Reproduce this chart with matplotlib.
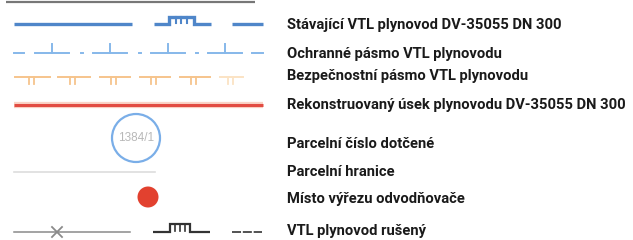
import matplotlib
matplotlib.use("Agg")
import matplotlib.pyplot as plt
from matplotlib.patches import Circle
from matplotlib import font_manager as fm

labels = [
    "Stávající VTL plynovod DV-35055 DN 300",
    "Ochranné pásmo VTL plynovodu",
    "Bezpečnostní pásmo VTL plynovodu",
    "Rekonstruovaný úsek plynovodu DV-35055 DN 300",
    "Parcelní číslo dotčené",
    "Parcelní hranice",
    "Místo výřezu odvodňovače",
    "VTL plynovod rušený",
]
parcel_number = "1384/1"

names = {f.name for f in fm.fontManager.ttflist}
family = "Roboto" if "Roboto" in names else "Liberation Sans"

W, H = 633, 240
fig = plt.figure(figsize=(W / 100, H / 100), dpi=100)
ax = fig.add_axes([0, 0, 1, 1])
ax.set_xlim(0, W)
ax.set_ylim(H, 0)
ax.axis("off")

row_y = [24, 53, 77, 105, 144, 172, 199, 232]
text_y = [25, 54, 76, 105, 144, 172, 199, 231]
tx = 287

blue = "#4f86c9"
lblue = "#86b8ea"
orange = "#f6c48c"
red = "#e24c42"
gray = "#8a8a8a"

# top gray rule
ax.plot([6, 255], [2, 2], color="#777777", lw=1.6, solid_capstyle="butt")

# row 1: existing pipeline
y = row_y[0]
ax.plot([14, 132], [y, y], color=blue, lw=2.4, solid_capstyle="butt")
ax.plot([154, 169, 169, 194, 194, 211], [y, y, y - 7, y - 7, y, y], color=blue, lw=2.4,
        solid_capstyle="butt", solid_joinstyle="miter")
for xx in [176, 181, 187]:
    ax.plot([xx, xx], [y - 7, y - 1], color=blue, lw=1.5)
ax.plot([232, 263], [y, y], color=blue, lw=2.4, solid_capstyle="butt")

# row 2: protection zone
y = row_y[1]
ax.plot([14, 24], [y, y], color=lblue, lw=1.4)
for x0 in [35, 93, 151, 208]:
    ax.plot([x0, x0 + 34], [y, y], color=lblue, lw=1.4)
    ax.plot([x0 + 17, x0 + 17], [y, y - 9], color=lblue, lw=1.4)
for xd in [81, 139, 196]:
    ax.plot([xd, xd + 2], [y, y], color=lblue, lw=1.4)
ax.plot([252, 263], [y, y], color=lblue, lw=1.4)

# row 3: safety zone
y = row_y[2]
segs = [(15, 50), (58, 90), (100, 130), (140, 170), (180, 210), (220, 243)]
for i, (a, b) in enumerate(segs):
    c = orange if i < 5 else "#fbe3c4"
    ax.plot([a, b], [y, y], color=c, lw=1.4)
    m = (a + b) / 2 - 2
    for xx in [m - 2, m + 3]:
        ax.plot([xx, xx], [y, y + 7], color=c, lw=1.3)

# row 4: reconstructed section
y = row_y[3]
ax.plot([14, 263], [y, y], color="#f7b7a0", lw=4.5, alpha=0.6, solid_capstyle="butt")
ax.plot([14, 263], [y, y], color=red, lw=2.2, solid_capstyle="butt")

# row 5: parcel number
y = row_y[4]
ax.add_patch(Circle((136, y - 6), 24, fill=False, ec="#7aaee8", lw=1.6))
ax.text(136, y - 6, parcel_number, ha="center", va="center", fontsize=8.5,
        color="#b8b8b8", family="Liberation Sans")

# row 6: parcel boundary
y = row_y[5]
ax.plot([14, 155], [y, y], color="#dddddd", lw=1.2)

# row 7: red dot
y = row_y[6]
ax.add_patch(Circle((148, y - 2), 10.5, color="#e2412f", ec="none"))

# row 8: cancelled pipeline
y = row_y[7]
ax.plot([14, 130], [y, y], color=gray, lw=1.1)
ax.plot([52, 62], [y - 5, y + 5], color=gray, lw=1.3)
ax.plot([52, 62], [y + 5, y - 5], color=gray, lw=1.3)
ax.plot([153, 170, 170, 190, 190, 210], [y, y, y - 8, y - 8, y, y], color="#333333", lw=1.6,
        solid_capstyle="butt", solid_joinstyle="miter")
for xx in [175, 180, 185]:
    ax.plot([xx, xx], [y - 8, y - 1], color="#333333", lw=1.2)
ax.plot([232, 262], [y, y], color="#444444", lw=1.3, dashes=(5, 1))

for lab, ty in zip(labels, text_y):
    ax.text(tx, ty, lab, ha="left", va="center", fontsize=10.6, fontweight="bold",
            color="#1a1a1a", family=family)

fig.savefig("out.png", dpi=100, facecolor="white")
